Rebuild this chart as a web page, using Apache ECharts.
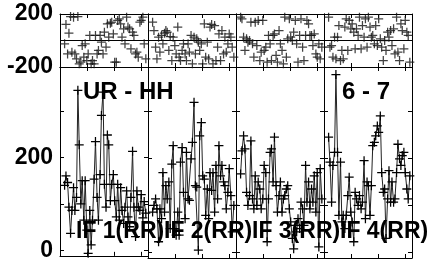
<!DOCTYPE html>
<html>
<head>
<meta charset="utf-8">
<script src="https://cdn.jsdelivr.net/npm/echarts@6/dist/echarts.min.js"></script>
<style>
  html, body { margin: 0; padding: 0; background: #fff; }
  #chart { width: 429px; height: 262px; }
</style>
</head>
<body>
<div id="chart"></div>
<script>
// time of each visibility (hours from panel start), shared by all IFs
const times = [0.17, 0.22, 0.28, 0.33, 0.39, 0.44, 0.50, 0.55, 0.61, 0.66,
  0.71, 0.77, 0.82, 0.88, 0.93, 0.99, 1.04, 1.10, 1.15, 1.20,
  1.26, 1.31, 1.37, 1.42, 1.48, 1.53, 1.59, 1.64, 1.70, 1.75,
  1.80, 1.86, 1.91, 1.97, 2.02, 2.08, 2.13, 2.19, 2.24, 2.29,
  2.35, 2.40, 2.46, 2.51, 2.57, 2.62, 2.68, 2.73, 2.79, 2.84,
  2.89, 2.95, 3.00, 3.06, 3.11, 3.17];

// amplitudes per IF
const ampIF1 = [140, 160, 146, 93, 37, 86, 135, 86, 114, 344, 227, 100, 150, 65, 150, 44, -6, 86, 12, 65,
  153, 234, 114, 65, 163, 290, 340, 142, 93, 248, 227, 107, 142, 163, 107, 72, 142, 65, 135, 86,
  58, 93, 128, 72, 51, 114, 213, 93, 30, 128, 93, 86, 120, 70, 105, 80];
const ampIF2 = [86, 100, 114, 93, 23, 93, 72, 170, 86, 142, 114, 150, 51, 188, 227, 51, 37, 86, 37, 192,
  223, 128, 72, 213, 114, 111, 199, 234, 319, 142, 139, 5, 248, 276, 163, 156, 79, 135, 72, 170,
  132, 170, 86, 185, 114, 227, 163, 185, 150, 142, 93, 128, 178, 121, 44, 100];
const ampIF3 = [167, 216, 248, 220, 128, 100, 121, 237, 114, 93, 163, 100, 150, 135, 93, 114, 185, 170, 23, 114,
  213, 220, 150, 245, 142, 86, 121, 150, 86, 114, 121, 135, 142, 93, 65, 30, 8, 58, 44, 72,
  51, 107, 93, 58, 185, 107, 150, 93, 135, 107, 163, 86, 170, 12, 178, 114];
const ampIF4 = [245, 192, 107, 185, 213, 378, 213, 79, 192, 65, 79, 51, 79, 121, 160, 86, 65, 23, 128, 114,
  100, 121, 93, 107, 195, 72, 150, 142, 79, 142, 227, 234, 248, 269, 255, 290, 170, 128, 135, 30,
  114, 174, 107, 150, 107, 114, 170, 230, 199, 185, 206, 213, 170, 135, 114, 163];

// phases per IF (degrees)
const phaseIF1 = [-25, 121, -101, 55, 181, -88, 176, -101, -138, 181, -176, -164, -38, -126, -25, -151, -101, 38, -176, -151,
  -176, 38, -101, -75, 38, -13, -101, 63, -50, 126, 25, 131, 138, 50, -164, -164, 151, 164, 126, 25,
  88, -25, 176, 101, 88, -63, 63, 38, -101, -88, -126, 138, 151, 176, -25, -138];
const phaseIF2 = [138, 75, -50, -138, 25, -88, 38, -25, 55, 75, 63, -75, 30, -151, 25, -38, -101, 101, -126, -151,
  -75, -25, -101, -151, -25, -88, 38, -176, 25, -101, 13, -13, -75, -25, -176, 126, -126, -13, -138, 101,
  121, -176, 113, -151, -50, 50, -151, 75, -101, 25, -88, -25, 50, 25, -50, -126];
const phaseIF3 = [176, 164, 25, -75, 13, -13, 0, 138, -25, -126, 138, -38, 151, -151, -88, 151, -75, -50, -164, 38,
  -25, -151, 38, 50, -113, -164, 75, -25, -75, -176, 176, -126, 13, 164, 25, 0, 63, 151, -25, -164,
  38, 164, -50, -151, 38, 151, 126, 38, 38, -38, 50, -101, -126, -25, -138, -50];
const phaseIF4 = [176, -50, -38, -126, 25, -138, 25, 113, -151, -75, -138, 101, 164, -75, 151, 88, 126, 63, -63, 88,
  38, 176, -63, 113, 25, 164, -50, 176, 101, 25, 38, -25, 113, -38, 164, 13, -50, -151, 0, -75,
  63, 25, 75, -38, 88, -101, 176, -88, -151, 126, 75, -63, 151, 63, 38, -164];

const ifNames = ['IF 1(RR)', 'IF 2(RR)', 'IF 3(RR)', 'IF 4(RR)'];
const baselineLeft = 'UR - HH';
const baselineRight = '6 - 7';
const phaseTickLabels = [-200, 200];
const ampTicks = [0, 100, 200, 300];
const ampTickLabels = [0, 200];

const amps = [ampIF1, ampIF2, ampIF3, ampIF4];
const phases = [phaseIF1, phaseIF2, phaseIF3, phaseIF4];

const FONT = 'Liberation Sans, Arial, Helvetica, sans-serif';
const PLUS = 'path://M4.3,0H5.7V4.3H10V5.7H5.7V10H4.3V5.7H0V4.3H4.3Z';
const colLeft = [60, 148, 236, 324];
const colWidth = 88;

const chart = echarts.init(document.getElementById('chart'));

const grid = [], xAxis = [], yAxis = [], series = [];
const axisLine = { show: true, onZero: false, lineStyle: { color: '#000', width: 1 } };
const tick = { show: true, inside: true, length: 4, lineStyle: { color: '#000', width: 1 } };
const labelStyle = { color: '#000', fontSize: 23, fontWeight: 'bold', fontFamily: FONT, margin: 7 };

for (let row = 0; row < 2; row++) {
  for (let c = 0; c < 4; c++) {
    const g = row * 4 + c;
    grid.push({
      left: colLeft[c], width: colWidth,
      top: row === 0 ? 14 : 67,
      height: row === 0 ? 53 : 191
    });
    ['bottom', 'top'].forEach(function (pos) {
      xAxis.push({
        gridIndex: g, type: 'value', min: 0, max: 3.25, interval: 1, position: pos,
        axisLine: axisLine, axisTick: tick, axisLabel: { show: false }, splitLine: { show: false }
      });
    });
    ['left', 'right'].forEach(function (pos) {
      const showLabel = pos === 'left' && c === 0;
      if (row === 0) {
        yAxis.push({
          gridIndex: g, type: 'value', min: -200, max: 200, interval: 200, position: pos,
          axisLine: axisLine, axisTick: tick,
          axisLabel: Object.assign({ show: showLabel, customValues: phaseTickLabels }, labelStyle),
          splitLine: { show: pos === 'left', lineStyle: { color: '#000', width: 1 } }
        });
      } else {
        yAxis.push({
          gridIndex: g, type: 'value', min: -11.5, max: 394, position: pos,
          axisLine: axisLine,
          axisTick: Object.assign({ customValues: ampTicks }, tick),
          axisLabel: Object.assign({ show: showLabel, customValues: ampTickLabels }, labelStyle),
          splitLine: { show: false }
        });
      }
    });
  }
}

for (let c = 0; c < 4; c++) {
  series.push({
    type: 'scatter', xAxisIndex: 2 * c, yAxisIndex: 2 * c,
    data: times.map(function (t, i) { return [t, phases[c][i]]; }),
    symbol: PLUS, symbolSize: 9, itemStyle: { color: '#111' }, silent: true
  });
  const g = 4 + c;
  series.push({
    type: 'line', xAxisIndex: 2 * g, yAxisIndex: 2 * g,
    data: times.map(function (t, i) { return [t, amps[c][i]]; }),
    symbol: PLUS, symbolSize: 9, showAllSymbol: true,
    lineStyle: { color: '#222', width: 1 }, itemStyle: { color: '#000' }, silent: true
  });
}

const titleText = { color: '#000', fontSize: 24, fontWeight: 'bold', fontFamily: FONT };
const title = [
  { text: baselineLeft, left: 83, top: 80, padding: 0, textStyle: titleText },
  { text: baselineRight, left: 342, top: 80, padding: 0, textStyle: titleText }
];
ifNames.forEach(function (name, c) {
  title.push({ text: name, left: colLeft[c] + 16, top: 220, padding: 0,
    textStyle: Object.assign({}, titleText, { fontSize: 23 }) });
});

chart.setOption({
  animation: false,
  backgroundColor: '#fff',
  title: title,
  grid: grid,
  xAxis: xAxis,
  yAxis: yAxis,
  series: series
});
</script>
</body>
</html>
